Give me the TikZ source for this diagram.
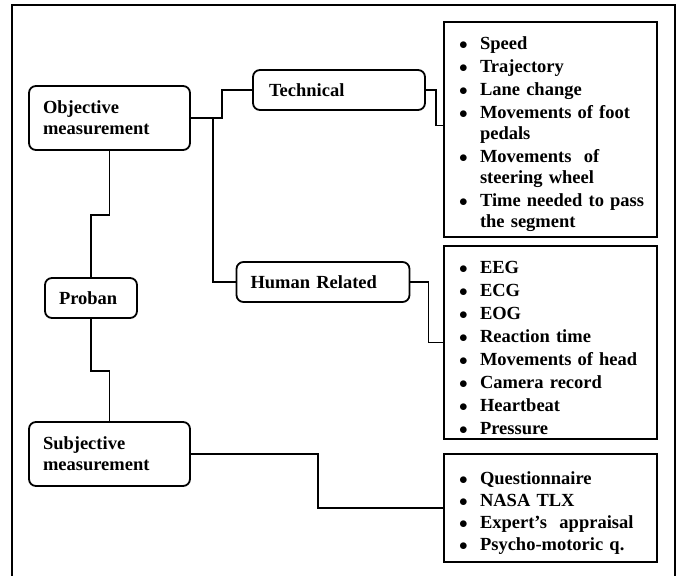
\documentclass[tikz,border=0pt]{standalone}
\usepackage{fontspec}
\setmainfont{Liberation Serif}
\usetikzlibrary{positioning}

\newcommand{\bitem}[1]{\par\noindent\hangindent=24pt\hangafter=1\hspace*{3pt}\makebox[21pt][l]{$\bullet$}#1}

\begin{document}
\begin{tikzpicture}[x=1pt,y=-1pt,
  catbox/.style={draw, line width=1.8pt, rounded corners=7pt, inner xsep=14pt, inner ysep=0pt,
    align=left, font=\fontsize{18.5}{21}\selectfont\bfseries},
  listbox/.style={draw, line width=1.9pt, inner xsep=12pt, inner ysep=0pt, text width=189pt,
    minimum width=213pt, font=\fontsize{18.5}{21}\selectfont\bfseries},
  link/.style={line width=1.6pt}]

\useasboundingbox (0,0) rectangle (679,575);

% outer frame (bottom edge runs off the page)
\draw[line width=2pt] (12,580)--(12,5)--(675,5)--(675,580);

% categories
\node[catbox, text width=133pt, minimum height=64pt] (obj) at (109.5,118) {Objective\\measurement};
\node[catbox, text width=133pt, minimum height=64pt] (subj) at (109.5,454) {Subjective\\measurement};
\node[catbox, text width=64pt, minimum height=40pt] (prob) at (91,298) {Proban};
\node[catbox, inner xsep=16pt, text width=140pt, minimum height=40pt] (tech) at (339,90) {Technical};
\node[catbox, text width=145pt, minimum height=40pt] (hum) at (323,282) {Human Related};

% lists
\node[listbox, minimum height=215pt] (techlist) at (550.5,129.5) {\raggedright\parindent=0pt\parskip=2pt
  \bitem{Speed}
  \bitem{Trajectory}
  \bitem{Lane change}
  \bitem{Movements of foot\newline pedals}
  \bitem{Movements\ \ of\newline steering wheel}
  \bitem{Time needed to pass\newline the segment}\par};
\node[listbox, minimum height=193pt] (humlist) at (550.5,342.5) {\raggedright\parindent=0pt\parskip=2pt
  \bitem{EEG}
  \bitem{ECG}
  \bitem{EOG}
  \bitem{Reaction time}
  \bitem{Movements of head}
  \bitem{Camera record}
  \bitem{Heartbeat}
  \bitem{Pressure}\par};
\node[listbox, minimum height=108pt] (subjlist) at (550.5,508) {\raggedright\parindent=0pt\parskip=1pt
  \bitem{Questionnaire}
  \bitem{NASA TLX}
  \bitem{Expert's\ \ appraisal}
  \bitem{Psycho-motoric q.}\par};

% connectors
\coordinate (split) at (213,118);
\draw[link] (obj.east) -- ++(31,0) |- (tech.west);
\draw[link] (split) |- (hum.west);
\draw[link] (tech.east) -- ++(10,0) |- ([yshift=4pt]techlist.west);
\draw[link] (hum.east) -- ++(18,0) |- (humlist.west);
\draw[link] (obj.south) -- ++(0,64) -| (prob.north);
\draw[link] (prob.south) -- ++(0,52) -| (subj.north);
\draw[link] (subj.east) -- ++(127,0) |- (subjlist.west);

\end{tikzpicture}
\end{document}
